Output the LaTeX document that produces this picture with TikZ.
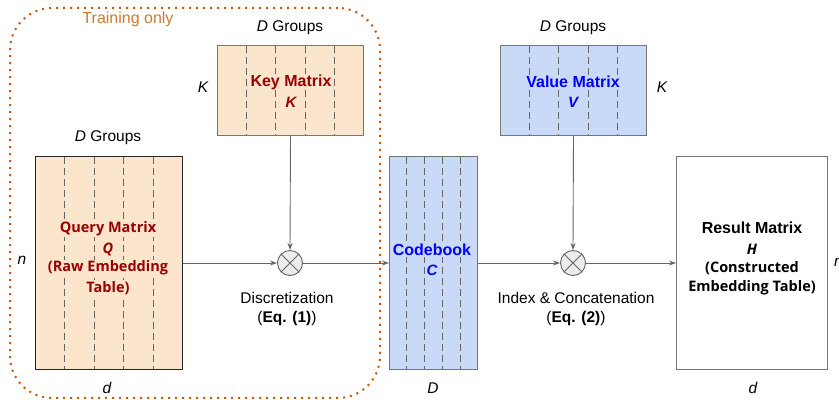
\documentclass[tikz,border=0pt]{standalone}
\usepackage{fontspec}
\setmainfont{Liberation Sans}
\newfontfamily\osans{Open Sans}
\usetikzlibrary{arrows.meta,calc}
\definecolor{lorange}{HTML}{FCE5CD}
\definecolor{lblue}{HTML}{C9DAF8}
\definecolor{dred}{HTML}{990000}
\definecolor{tblue}{HTML}{0000FF}
\definecolor{dotorange}{HTML}{C55A11}
\definecolor{trainorange}{HTML}{C87A38}
\definecolor{bordergray}{HTML}{757575}
\definecolor{linegray}{HTML}{666666}
\tikzset{
  matbox/.style={draw=bordergray, line width=1pt, inner sep=0pt, anchor=north west},
  dashline/.style={draw=linegray, line width=0.9pt, dash pattern=on 7pt off 4pt},
  conn/.style={draw=linegray, line width=0.9pt, -{Stealth[length=7pt,width=5pt]}},
  otimes/.style={circle, draw=linegray, line width=0.9pt, fill=gray!15, minimum size=25pt, inner sep=0pt},
  lbl/.style={font=\fontsize{15.5}{18}\selectfont, inner sep=0pt},
  lbli/.style={font=\fontsize{15.5}{18}\selectfont\itshape, inner sep=0pt},
  ttl/.style={font=\fontsize{16}{19}\selectfont\bfseries, inner sep=1pt},
  ttli/.style={font=\fontsize{15}{18}\selectfont\bfseries\itshape, inner sep=1pt},
  ost/.style={font=\osans\fontsize{14.5}{18}\selectfont\bfseries, inner sep=1pt},
  osti/.style={font=\osans\fontsize{14.5}{18}\selectfont\bfseries\itshape, inner sep=1pt},
}
\begin{document}
\begin{tikzpicture}[x=1pt,y=-1pt]
\useasboundingbox (0,0) rectangle (839,406);

% training-only region
\node[draw=dotorange, line width=2pt, dash pattern=on 2pt off 5pt, rounded corners=42pt,
      minimum width=370pt, minimum height=390pt, inner sep=0pt] (train) at (195,203) {};
\node[font=\fontsize{16}{19}\selectfont, text=trainorange, inner sep=0pt] (trainlbl) at (128,19) {Training only};

% boxes
\node[matbox, fill=lorange, minimum width=146pt, minimum height=90pt] (key) at (217,45) {};
\node[matbox, fill=lorange, draw=black!85, minimum width=147pt, minimum height=213pt] (query) at (35,156) {};
\node[matbox, fill=lblue, minimum width=88pt, minimum height=213pt] (code) at (389,156) {};
\node[matbox, fill=lblue, minimum width=146pt, minimum height=90pt] (value) at (500,45) {};
\node[matbox, fill=white, minimum width=151pt, minimum height=213pt] (result) at (676,156) {};

% dashed group lines
\foreach \b in {key,query,code,value}{
  \foreach \i in {1,...,4}{
    \draw[dashline] ($(\b.north west)!\i/5!(\b.north east)+(0,1)$) -- ($(\b.south west)!\i/5!(\b.south east)+(0,-1)$);
  }
}

% texts in boxes
\node[ttl, text=dred, fill=lorange] (keyt1) at (291,82) {Key Matrix};
\node[ttli, text=dred, fill=lorange] (keyt2) at (291,102) {K};

\node[ost, text=dred, fill=lorange] (qt1) at (108,229) {Query Matrix};
\node[osti, text=dred, fill=lorange] (qt2) at (108,249) {Q};
\node[ost, text=dred, fill=lorange] (qt3) at (108,268) {(Raw Embedding};
\node[ost, text=dred, fill=lorange] (qt4) at (108,288) {Table)};

\node[ttl, text=tblue, fill=lblue] (ct1) at (432,250) {Codebook};
\node[ttli, text=tblue, fill=lblue] (ct2) at (432,270) {C};

\node[ttl, text=tblue, fill=lblue] (vt1) at (573,82) {Value Matrix};
\node[ttli, text=tblue, fill=lblue] (vt2) at (573,102) {V};

\node[ttl, text=black] (rt1) at (752,228) {Result Matrix};
\node[osti, text=black] (rt2) at (752,249) {H};
\node[ost, text=black] (rt3) at (752,268) {(Constructed};
\node[ost, text=black] (rt4) at (752,288) {Embedding Table)};

% dimension labels
\node[lbl] (kgrp) at (290,28) {\textit{D} Groups};
\node[lbl] (qgrp) at (108,138) {\textit{D} Groups};
\node[lbl] (vgrp) at (573,28) {\textit{D} Groups};
\node[lbli] (kK) at (203,87) {K};
\node[lbli] (vK) at (662,87) {K};
\node[lbli] (qn) at (22,260) {n};
\node[lbli] (qd) at (107,388) {d};
\node[lbli] (cD) at (433,388) {D};
\node[lbli] (rd) at (753,388) {d};
\node[lbli, anchor=west] (rn) at (834,262) {n};

% operators
\node[otimes] (m1) at (290,263) {};
\draw[linegray, line width=0.9pt] (m1.north west) -- (m1.south east) (m1.north east) -- (m1.south west);
\node[otimes] (m2) at (573,263) {};
\draw[linegray, line width=0.9pt] (m2.north west) -- (m2.south east) (m2.north east) -- (m2.south west);

% connectors
\draw[conn] (query.east) -- (m1.west);
\draw[conn] (key.south) -- (m1.north);
\draw[conn] (m1.east) -- (code.west);
\draw[conn] (code.east) -- (m2.west);
\draw[conn] (value.south) -- (m2.north);
\draw[conn] (m2.east) -- (result.west);

% operation labels
\node[lbl] (disc1) at (287,298) {Discretization};
\node[lbl] (disc2) at (287,318) {(\textbf{Eq. (1)})};
\node[lbl] (idx1) at (576,298) {Index \& Concatenation};
\node[lbl] (idx2) at (576,318) {(\textbf{Eq. (2)})};
\end{tikzpicture}
\end{document}
